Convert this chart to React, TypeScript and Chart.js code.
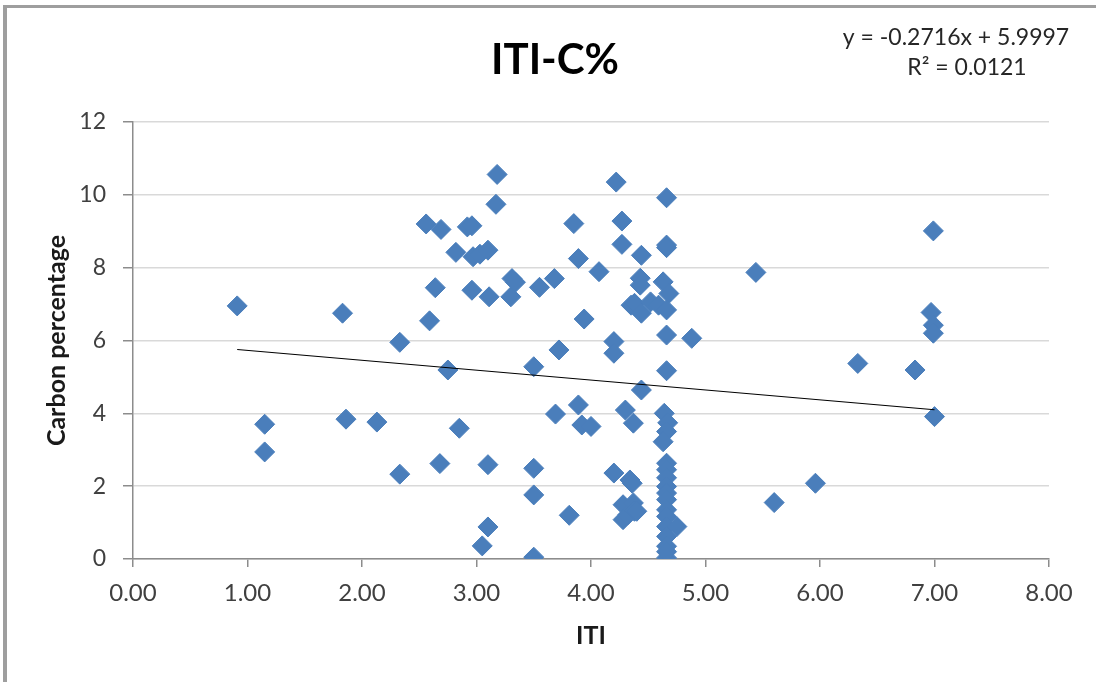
import React, { useEffect, useRef } from "react";
import { Chart, registerables } from "chart.js";

Chart.register(...registerables);

// ITI (x) and carbon percentage (y), paired by index
const itiValues = [
  0.91, 1.15, 1.15, 1.83, 1.86, 2.13, 2.33, 2.33,
  2.56, 2.69, 2.59, 2.64, 2.68, 2.75, 2.82, 2.85, 2.92, 2.96, 2.97, 2.96,
  3.03, 3.10, 3.05, 3.10, 3.10, 3.11, 3.17, 3.18, 3.30, 3.31, 3.34,
  3.50, 3.50, 3.50, 3.50, 3.55,
  3.68, 3.69, 3.72, 3.81, 3.85, 3.89, 3.89, 3.92, 3.94, 4.00, 4.07,
  4.20, 4.20, 4.20, 4.22, 4.27, 4.27, 4.28, 4.28, 4.30, 4.32, 4.34, 4.35,
  4.36, 4.37, 4.37, 4.38, 4.38, 4.40, 4.43, 4.43, 4.44, 4.44, 4.44, 4.52, 4.59,
  4.66, 4.66, 4.66, 4.63, 4.68, 4.66, 4.66, 4.66,
  4.64, 4.67, 4.66, 4.63, 4.66, 4.66, 4.66, 4.66, 4.66, 4.66, 4.66, 4.66,
  4.66, 4.66, 4.75, 4.66, 4.66, 4.66, 4.88,
  5.44, 5.60, 5.96, 6.33, 6.83, 6.97, 6.99, 6.99, 6.99, 7.00,
];
const carbonValues = [
  6.95, 3.70, 2.94, 6.75, 3.84, 3.76, 5.95, 2.33,
  9.20, 9.05, 6.54, 7.45, 2.62, 5.19, 8.42, 3.59, 9.12, 9.15, 8.30, 7.38,
  8.37, 8.48, 0.36, 0.88, 2.59, 7.20, 9.74, 10.56, 7.20, 7.70, 7.60,
  5.28, 2.49, 1.76, 0.05, 7.46,
  7.70, 3.98, 5.74, 1.20, 9.21, 8.25, 4.23, 3.68, 6.59, 3.64, 7.89,
  5.97, 5.65, 2.36, 10.35, 9.28, 8.64, 1.49, 1.08, 4.09, 1.21, 2.17, 6.97,
  2.08, 3.73, 1.54, 7.02, 1.31, 1.31, 7.71, 7.52, 8.34, 6.75, 4.64, 7.06, 6.97,
  9.92, 8.62, 8.55, 7.61, 7.29, 6.84, 6.15, 5.17,
  4.00, 3.74, 3.50, 3.22, 2.63, 2.45, 2.23, 1.99, 1.81, 1.63, 1.35, 1.17,
  0.89, 0.62, 0.89, 0.35, 0.03, 0.20, 6.06,
  7.87, 1.55, 2.08, 5.37, 5.19, 6.77, 6.42, 6.20, 9.01, 3.91,
];

const xTickValues = [0, 1, 2, 3, 4, 5, 6, 7, 8];
const yTickValues = [0, 2, 4, 6, 8, 10, 12];

const chartTitle = "ITI-C%";
const xAxisTitle = "ITI";
const yAxisTitle = "Carbon percentage";
const trendSlope = -0.2716;
const trendIntercept = 5.9997;
const equationLines = ["y = -0.2716x + 5.9997", "R\u00B2 = 0.0121"];

const FONT = "Lato, 'Open Sans', 'DejaVu Sans', sans-serif";

const overlayText = {
  id: "overlayText",
  afterDraw(chart: any) {
    const ctx = chart.ctx;
    ctx.save();
    ctx.textAlign = "center";
    ctx.textBaseline = "middle";
    ctx.fillStyle = "#000000";
    ctx.font = `bold 42px ${FONT}`;
    ctx.fillText(chartTitle, 555, 60);
    ctx.fillStyle = "#262626";
    ctx.font = `23px ${FONT}`;
    ctx.fillText(equationLines[0], 956, 38);
    ctx.fillText(equationLines[1], 967, 68);
    ctx.restore();
  },
};

export default function App() {
  const canvasRef = useRef<HTMLCanvasElement | null>(null);

  useEffect(() => {
    const canvas = canvasRef.current;
    if (!canvas) return;
    const points = itiValues.map((x, i) => ({ x, y: carbonValues[i] }));
    const minX = Math.min(...itiValues);
    const maxX = Math.max(...itiValues);
    const trend = [minX, maxX].map((x) => ({ x, y: trendSlope * x + trendIntercept }));

    const chart = new Chart(canvas, {
      type: "scatter",
      data: {
        datasets: [
          {
            type: "line",
            label: "Linear trend",
            data: trend,
            borderColor: "#000000",
            borderWidth: 1.2,
            pointRadius: 0,
            fill: false,
            order: 0,
          } as any,
          {
            label: "C%",
            data: points,
            pointStyle: "rectRot",
            pointRadius: 10,
            pointBackgroundColor: "#4a7ebb",
            pointBorderColor: "#4a7ebb",
            pointBorderWidth: 1,
            order: 1,
          },
        ],
      },
      options: {
        responsive: false,
        animation: false,
        devicePixelRatio: 1,
        layout: { padding: { left: 38, right: 47, top: 122, bottom: 27 } },
        plugins: {
          legend: { display: false },
          tooltip: { enabled: false },
          title: { display: false },
        },
        scales: {
          x: {
            type: "linear",
            position: "bottom",
            min: 0,
            max: 8,
            afterBuildTicks: (s: any) => {
              s.ticks = xTickValues.map((v) => ({ value: v }));
            },
            afterFit: (s: any) => {
              s.height = 96;
            },
            ticks: {
              callback: (v: any) => Number(v).toFixed(2),
              font: { family: FONT, size: 24 },
              color: "#404040",
              padding: 12,
              maxRotation: 0,
              autoSkip: false,
            },
            grid: {
              drawOnChartArea: false,
              drawTicks: true,
              tickLength: 8,
              tickColor: "#8c8c8c",
              lineWidth: 1.5,
            },
            border: { color: "#8c8c8c", width: 1.5 },
            title: {
              display: true,
              text: xAxisTitle,
              font: { family: FONT, size: 25, weight: "bold" },
              color: "#1a1a1a",
              padding: { top: 4, bottom: 4 },
            },
          },
          y: {
            type: "linear",
            min: 0,
            max: 12,
            afterBuildTicks: (s: any) => {
              s.ticks = yTickValues.map((v) => ({ value: v }));
            },
            afterFit: (s: any) => {
              s.width = 95;
            },
            ticks: {
              font: { family: FONT, size: 23 },
              color: "#404040",
              padding: 17,
            },
            grid: {
              color: "#d9d9d9",
              lineWidth: 1.5,
              tickLength: 10,
              tickColor: "#8c8c8c",
            },
            border: { color: "#8c8c8c", width: 1.5 },
            title: {
              display: true,
              text: yAxisTitle,
              font: { family: FONT, size: 25, weight: "bold" },
              color: "#1a1a1a",
              padding: { top: 4, bottom: 4 },
            },
          },
        },
      },
      plugins: [overlayText],
    });

    return () => {
      chart.destroy();
    };
  }, []);

  return (
    <div
      style={{
        position: "fixed",
        left: 0,
        top: 0,
        width: 1096,
        height: 682,
        background: "#ffffff",
        overflow: "hidden",
      }}
    >
      <div
        style={{
          position: "absolute",
          left: 3,
          top: 5,
          width: 1200,
          height: 800,
          borderLeft: "4px solid #9e9e9e",
          borderTop: "3px solid #9e9e9e",
        }}
      />
      <canvas
        ref={canvasRef}
        width={1096}
        height={682}
        style={{ position: "absolute", left: 0, top: 0, width: 1096, height: 682 }}
      />
    </div>
  );
}
